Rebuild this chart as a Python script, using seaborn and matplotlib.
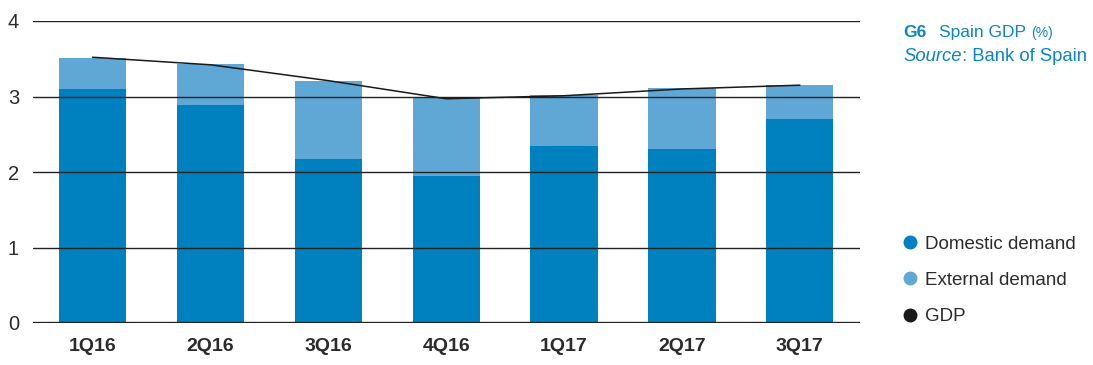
import matplotlib
matplotlib.use("Agg")
import matplotlib.pyplot as plt
from matplotlib.lines import Line2D
import seaborn as sns
import pandas as pd

quarters = ["1Q16", "2Q16", "3Q16", "4Q16", "1Q17", "2Q17", "3Q17"]
domestic = [3.10, 2.89, 2.17, 1.95, 2.34, 2.30, 2.70]
external = [0.41, 0.54, 1.04, 1.04, 0.68, 0.81, 0.45]
gdp = [3.52, 3.42, 3.21, 2.97, 3.01, 3.10, 3.15]
yticks = [0, 1, 2, 3, 4]

C_DOM = "#0081BF"
C_EXT = "#5FA8D6"
C_TXT = "#2b2b2b"
C_BLUE = "#0A85C6"

sns.set_theme(style="white")
plt.rcParams["font.family"] = ["Liberation Sans", "DejaVu Sans"]

df = pd.DataFrame({"quarter": quarters, "domestic": domestic,
                   "total": [d + e for d, e in zip(domestic, external)]})

W, H = 1093, 365
fig = plt.figure(figsize=(W / 100, H / 100), dpi=100)
ax = fig.add_axes([33 / W, 1 - 323 / H, (860 - 33) / W, (323 - 21) / H])

for y in yticks[1:]:
    ax.axhline(y, color="#222222", lw=1.0, zorder=3)
ax.axhline(0, color="#222222", lw=2.4, zorder=4)

sns.barplot(data=df, x="quarter", y="total", color=C_EXT, saturation=1,
            width=0.57, ax=ax, zorder=1, linewidth=0)
sns.barplot(data=df, x="quarter", y="domestic", color=C_DOM, saturation=1,
            width=0.57, ax=ax, zorder=2, linewidth=0)
sns.lineplot(x=list(range(len(quarters))), y=gdp, color="#1a1a1a", lw=1.1,
             ax=ax, zorder=5)

ax.set_ylim(0, 4)
ax.set_xlim(-0.505, 6.51)
ax.set_yticks(yticks)
ax.set_yticklabels([str(v) for v in yticks], fontsize=14.5, color=C_TXT)
ax.set_xticks(range(len(quarters)))
ax.set_xticklabels(quarters, fontsize=14, fontweight="bold", color=C_TXT)
ax.tick_params(axis="y", length=0, pad=10)
ax.tick_params(axis="x", length=0, pad=11)
ax.set_xlabel("")
ax.set_ylabel("")
for s in ax.spines.values():
    s.set_visible(False)

# Title block, pieces chained left to right
renderer = fig.canvas.get_renderer()


def chain(x_px, y_px, pieces):
    x = x_px
    for txt, kw, gap in pieces:
        t = fig.text(x / W, 1 - y_px / H, txt, color=C_BLUE, va="baseline", **kw)
        bb = t.get_window_extent(renderer=renderer)
        x = bb.x1 + gap


chain(903, 37, [("G6", dict(fontsize=12.5, fontweight="bold"), 13),
                ("Spain GDP", dict(fontsize=12.5), 5),
                ("(%)", dict(fontsize=10), 0)])
chain(903, 61, [("Source", dict(fontsize=13.3, style="italic"), 0),
                (": Bank of Spain", dict(fontsize=13.3), 0)])

handles = [Line2D([], [], marker="o", ls="", color=c, markersize=9)
           for c in (C_DOM, C_EXT, "#1a1a1a")]
leg = fig.legend(handles, ["Domestic demand", "External demand", "GDP"],
                 loc="upper left", bbox_to_anchor=(891 / W, 1 - 228 / H),
                 frameon=False, fontsize=13.5, labelspacing=1.02,
                 handletextpad=0.2, handlelength=1.2, borderaxespad=0)
for t in leg.get_texts():
    t.set_color(C_TXT)

fig.savefig("out.png", dpi=100)
